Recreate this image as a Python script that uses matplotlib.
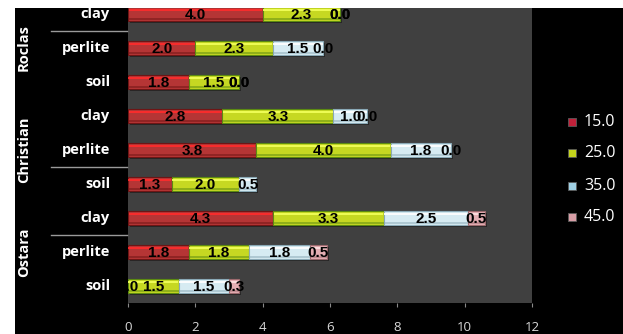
import matplotlib
matplotlib.use("Agg")
import matplotlib.pyplot as plt
import matplotlib.patheffects as pe
from matplotlib.patches import Rectangle
from matplotlib.transforms import blended_transform_factory

# ---- data -------------------------------------------------------------
groups = ["Roclas", "Christian", "Ostara"]
media = ["clay", "perlite", "soil"]
series_names = ["15.0", "25.0", "35.0", "45.0"]

# rows listed top to bottom: (group, medium)
row_labels = [(g, m) for g in groups for m in media]

s15 = [4.0, 2.0, 1.8, 2.8, 3.8, 1.3, 4.3, 1.8, 0.0]
s25 = [2.3, 2.3, 1.5, 3.3, 4.0, 2.0, 3.3, 1.8, 1.5]
s35 = [0.0, 1.5, 0.0, 1.0, 1.8, 0.5, 2.5, 1.8, 1.5]
s45 = [0.0, 0.0, 0.0, 0.0, 0.0, None, 0.5, 0.5, 0.3]
series = [s15, s25, s35, s45]

x_ticks = [0, 2, 4, 6, 8, 10, 12]

# ---- styles -----------------------------------------------------------
body_colors = ["#b53535", "#c6d822", "#d6ebf2", "#e4aeb3"]
top_colors = ["#ff2b2b", "#f2ff5a", "#ffffff", "#ffe2e2"]
edge_colors = ["#6e1515", "#5c8a12", "#8aa9b6", "#9c6a6e"]
legend_colors = ["#c0213a", "#c4d41c", "#9fd0e4", "#d89ea6"]

W, H = 623, 334
fig = plt.figure(figsize=(W / 100, H / 100), dpi=100, facecolor="black")

# white margins on the top and left edges
fig.patches.append(Rectangle((0, 0), 15 / W, 1, transform=fig.transFigure,
                             facecolor="white", edgecolor="none", zorder=-5))
fig.patches.append(Rectangle((0, 1 - 8 / H), 1, 8 / H, transform=fig.transFigure,
                             facecolor="white", edgecolor="none", zorder=-5))

ax_left, ax_right, ax_top, ax_bot = 128, 532, 8, 303
ax = fig.add_axes([ax_left / W, 1 - ax_bot / H, (ax_right - ax_left) / W,
                   (ax_bot - ax_top) / H])
ax.set_facecolor("#404040")
for sp in ax.spines.values():
    sp.set_visible(False)

n = len(row_labels)
ypos = [n - 1 - i for i in range(n)]
bar_h = 0.42

label_font = ["Liberation Sans Narrow", "Liberation Sans", "DejaVu Sans"]
ui_font = ["Open Sans", "DejaVu Sans"]
shadow = [pe.SimplePatchShadow(offset=(1.5, -1.5), shadow_rgbFace="#1c1c1c", alpha=0.7),
          pe.Normal()]

for i, y in enumerate(ypos):
    left = 0.0
    for k, vals in enumerate(series):
        v = vals[i]
        if v is None:
            continue
        if v > 0:
            ax.barh(y, v, left=left, height=bar_h, color=body_colors[k],
                    edgecolor=edge_colors[k], linewidth=0.8, zorder=2,
                    path_effects=shadow)
            # glossy band along the top of each segment
            ax.barh(y + bar_h * 0.28, v * 0.985, left=left + v * 0.0075,
                    height=bar_h * 0.16, color=top_colors[k],
                    edgecolor="none", zorder=3, alpha=0.9)
            # darker band along the bottom
            ax.barh(y - bar_h * 0.36, v, left=left, height=bar_h * 0.1,
                    color=edge_colors[k], edgecolor="none", zorder=3, alpha=0.5)
        ax.text(left + v / 2, y - 0.03, f"{v:.1f}", ha="center", va="center",
                fontsize=11, fontweight="bold", color="black",
                family=label_font, zorder=5, clip_on=True)
        left += v

ax.set_xlim(0, 12)
ax.set_ylim(-0.5, 8 + 6 / 34)
ax.set_yticks([])
ax.set_xticks(x_ticks)
ax.set_xticklabels([str(t) for t in x_ticks], family=ui_font)
ax.tick_params(axis="x", colors="#8a8a8a", length=3, width=0.8, pad=10,
               labelsize=9.5, labelcolor="#d8d8d8")

# category labels and group dividers on the left
yl = blended_transform_factory(fig.transFigure, ax.transData)
for i, (g, m) in enumerate(row_labels):
    ax.text(110 / W, ypos[i], m, transform=yl, ha="right", va="center",
            color="white", fontsize=10.5, fontweight="bold",
            family=ui_font, clip_on=False)

group_centers = [7.0, 4.0, 1.0]
for g, yc in zip(groups, group_centers):
    ax.text(24 / W, yc, g, transform=yl, ha="center", va="center",
            rotation=90, color="white", fontsize=10.5, fontweight="bold",
            family=ui_font, clip_on=False)

for yd in [7.5, 3.5, 1.5]:
    ax.plot([51 / W, 127 / W], [yd, yd], transform=yl,
            color="#9a9a9a", linewidth=1.0, clip_on=False)

# legend
leg_y = [122, 153, 186, 217]
for name, col, py in zip(series_names, legend_colors, leg_y):
    fig.patches.append(Rectangle((568 / W, 1 - (py + 4) / H), 8 / W, 8 / H,
                                 transform=fig.transFigure, facecolor=col,
                                 edgecolor="#5a5a5a", linewidth=0.6))
    fig.text(584 / W, 1 - py / H, name, ha="left", va="center", color="white",
             fontsize=11.5, family=ui_font)

fig.savefig("out.png", dpi=100, facecolor=fig.get_facecolor())
